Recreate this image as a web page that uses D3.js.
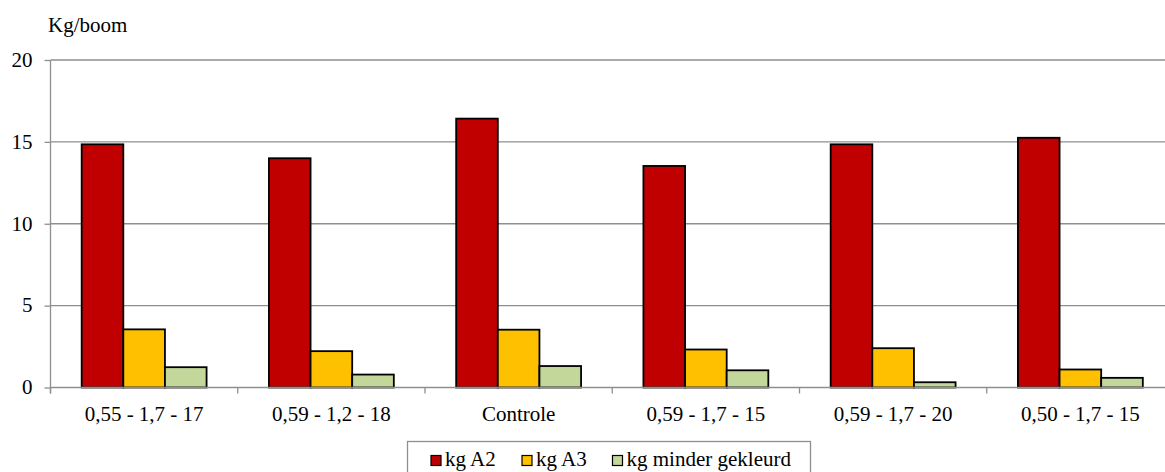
<!DOCTYPE html>
<html>
<head>
<meta charset="utf-8">
<script src="https://cdn.jsdelivr.net/npm/d3@7"></script>
<style>
  html, body { margin: 0; padding: 0; background: #fff; }
  svg { display: block; }
</style>
</head>
<body>
<svg id="chart" width="1165" height="472"></svg>
<script>
// Yield per tree (kg) for each treatment
const categories = ["0,55 - 1,7 - 17", "0,59 - 1,2 - 18", "Controle", "0,59 - 1,7 - 15", "0,59 - 1,7 - 20", "0,50 - 1,7 - 15"];
const seriesNames = ["kg A2", "kg A3", "kg minder gekleurd"];
const kgA2 = [14.85, 14.0, 16.42, 13.53, 14.85, 15.25];
const kgA3 = [3.55, 2.22, 3.53, 2.32, 2.40, 1.10];
const kgMinder = [1.24, 0.79, 1.31, 1.05, 0.32, 0.59];
const seriesColors = ["#C00000", "#FFC000", "#C4D79B"];
const yTicks = [0, 5, 10, 15, 20];
const yTitle = "Kg/boom";

const FONT = "Liberation Serif";

const seriesValues = [kgA2, kgA3, kgMinder];
const rows = categories.map((c, i) => ({
  category: c,
  values: seriesNames.map((s, j) => ({ series: s, value: seriesValues[j][i], color: seriesColors[j] }))
}));

const svg = d3.select("#chart").attr("font-family", FONT);
const plot = { left: 50.5, right: 1174, top: 60, bottom: 387.5 };
const gridColor = "#8f8f8f";
const fontSize = 21;

const x = d3.scaleBand().domain(categories).range([plot.left, plot.right]).padding(0);
const bw = x.bandwidth();
const x1 = d3.scaleBand().domain(seriesNames).range([bw * 0.1665, bw * 0.8335]).padding(0);
const y = d3.scaleLinear().domain([0, 20]).range([plot.bottom, plot.top]);

// horizontal gridlines
svg.append("g")
  .selectAll("line")
  .data(yTicks.filter(t => t > 0))
  .join("line")
  .attr("x1", plot.left).attr("x2", plot.right)
  .attr("y1", d => y(d)).attr("y2", d => y(d))
  .attr("stroke", gridColor).attr("stroke-width", 1.3);

// bars
const groups = svg.append("g")
  .selectAll("g")
  .data(rows)
  .join("g")
  .attr("transform", d => `translate(${x(d.category)},0)`);

groups.selectAll("rect")
  .data(d => d.values)
  .join("rect")
  .attr("x", d => x1(d.series))
  .attr("width", x1.bandwidth())
  .attr("y", d => y(d.value))
  .attr("height", d => y(0) - y(d.value))
  .attr("fill", d => d.color)
  .attr("stroke", "#000")
  .attr("stroke-width", 1.8);

// y axis
const yAxis = svg.append("g")
  .attr("transform", `translate(${plot.left},0)`)
  .call(d3.axisLeft(y).tickValues(yTicks).tickSize(6).tickPadding(12).tickFormat(d3.format("d")));
yAxis.attr("font-family", FONT).attr("font-size", fontSize);
yAxis.select(".domain").attr("stroke", gridColor).attr("stroke-width", 1.3)
  .attr("d", `M0,${plot.top}V${plot.bottom + 6}`);
yAxis.selectAll(".tick line").attr("stroke", gridColor).attr("stroke-width", 1.3);
yAxis.selectAll(".tick text")
  .attr("fill", "#000")
  .attr("dy", "0.3em");

// x axis with ticks at category boundaries
const xAxis = svg.append("g").attr("transform", `translate(0,${plot.bottom})`);
xAxis.append("line")
  .attr("x1", plot.left).attr("x2", plot.right)
  .attr("stroke", gridColor).attr("stroke-width", 1.3);
const boundaries = categories.map(c => x(c)).concat([x(categories[categories.length - 1]) + bw]);
xAxis.selectAll("line.tk")
  .data(boundaries)
  .join("line")
  .attr("class", "tk")
  .attr("x1", d => d).attr("x2", d => d)
  .attr("y1", 0).attr("y2", 6)
  .attr("stroke", gridColor).attr("stroke-width", 1.3);
xAxis.selectAll("text")
  .data(categories)
  .join("text")
  .attr("x", d => x(d) + bw / 2)
  .attr("y", 33)
  .attr("text-anchor", "middle")
  .attr("font-size", fontSize)
  .text(d => d);

// y title
svg.append("text")
  .attr("x", 48).attr("y", 32)
  .attr("font-size", fontSize)
  .text(yTitle);

// legend
const legend = svg.append("g");
legend.append("rect")
  .attr("x", 407.5).attr("y", 441.5)
  .attr("width", 403).attr("height", 40)
  .attr("fill", "#fff")
  .attr("stroke", gridColor).attr("stroke-width", 1.3);
const legendX = [431, 522, 612.5];
const items = legend.selectAll("g")
  .data(seriesNames)
  .join("g")
  .attr("transform", (d, i) => `translate(${legendX[i]},455.5)`);
items.append("rect")
  .attr("width", 10).attr("height", 10)
  .attr("fill", (d, i) => seriesColors[i])
  .attr("stroke", "#000").attr("stroke-width", 1.2);
items.append("text")
  .attr("x", 14).attr("y", 10.5)
  .attr("font-size", fontSize)
  .text(d => d);
</script>
</body>
</html>
